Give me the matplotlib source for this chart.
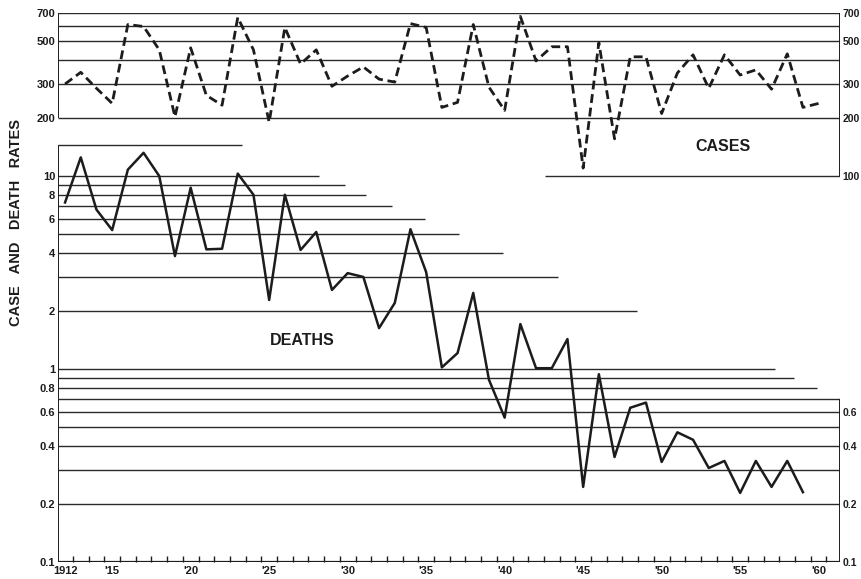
"""Case and death rates, 1912-1960, on one log scale (cases read on the x10 labels)."""
import matplotlib
matplotlib.use("Agg")
import matplotlib.pyplot as plt
from matplotlib.ticker import NullLocator
import numpy as np

plt.rcParams["font.family"] = ["Liberation Sans", "DejaVu Sans"]

# ---- data ----
case_years = list(range(1912, 1961))
cases = [300, 345, 285, 238, 610, 596, 451, 203, 462, 262, 233, 664, 451, 190,
         589, 381, 451, 292, 330, 368, 318, 307, 617, 589, 227, 241, 610, 289,
         219, 672, 395, 468, 468, 110, 491, 156, 415, 415, 211, 342, 425, 285,
         425, 334, 355, 282, 430, 227, 238]

death_years = list(range(1912, 1960))
deaths = [7.3, 12.5, 6.7, 5.25, 10.8, 13.2, 10.0, 3.85, 8.7, 4.17, 4.2, 10.3,
          8.0, 2.28, 8.0, 4.14, 5.13, 2.57, 3.14, 3.0, 1.63, 2.2, 5.3, 3.18,
          1.02, 1.21, 2.48, 0.88, 0.56, 1.71, 1.01, 1.01, 1.43, 0.245, 0.94,
          0.35, 0.63, 0.67, 0.33, 0.47, 0.43, 0.307, 0.334, 0.228, 0.334,
          0.245, 0.334, 0.23]

year_ticks = [1912, 1915, 1920, 1925, 1930, 1935, 1940, 1945, 1950, 1955, 1960]
year_labels = ["1912", "'15", "'20", "'25", "'30", "'35", "'40", "'45", "'50",
               "'55", "'60"]

# cases are drawn at cases/10 on the death-rate scale
left_ticks = [0.1, 0.2, 0.4, 0.6, 0.8, 1, 2, 4, 6, 8, 10, 20, 30, 50, 70]
left_labels = ["0.1", "0.2", "0.4", "0.6", "0.8", "1", "2", "4", "6", "8", "10",
               "200", "300", "500", "700"]
right_ticks = [0.1, 0.2, 0.4, 0.6, 10, 20, 30, 50, 70]
right_labels = ["0.1", "0.2", "0.4", "0.6", "100", "200", "300", "500", "700"]

# ruled lines: level and the year where each one stops (staircase look)
rule_levels = [70, 60, 50, 40, 30, 20, 14.5, 10, 9, 8, 7, 6, 5, 4, 3, 2,
               1, 0.9, 0.8, 0.7, 0.6, 0.5, 0.4, 0.3, 0.2]
rule_ends = [None, None, None, None, None, None, 1923.3, 1928.2, 1929.8,
             1931.2, 1932.8, 1934.9, 1937.1, 1939.9, 1943.4, 1948.4,
             1957.2, 1958.4, 1959.9, None, None, None, None, None, None]

X0, X1 = 1911.55, 1961.36
INK = "#1c1c1c"

fig = plt.figure(figsize=(8.62, 5.79), dpi=100)
ax = fig.add_axes([58 / 862, 17 / 579, 782 / 862, 549 / 579])
ax.set_yscale("log")
ax.set_xlim(X0, X1)
ax.set_ylim(0.1, 70)
for s in ax.spines.values():
    s.set_visible(False)

# ruled grid
for lvl, end in zip(rule_levels, rule_ends):
    ax.hlines(lvl, X0, X1 if end is None else end, color="#2a2a2a", lw=1.0)
ax.hlines(10, 1942.6, X1, color="#2a2a2a", lw=1.0)   # 100 cases line

# frame pieces
ax.hlines(0.1, X0, X1, color=INK, lw=1.6)
ax.vlines(X0, 0.1, 14.5, color=INK, lw=1.4)
ax.vlines(X0, 20, 70, color=INK, lw=1.4)
ax.vlines(X1, 10, 70, color=INK, lw=1.4)
ax.vlines(X1, 0.1, 0.7, color=INK, lw=1.4)

# series
ax.plot(case_years, np.array(cases) / 10, color=INK, lw=2.0,
        ls=(0, (3.2, 1.7)))
ax.plot(death_years, deaths, color=INK, lw=1.8)

ax.text(1953.9, 14.3, "CASES", fontsize=11.5, fontweight="bold",
        ha="center", va="center", color=INK)
ax.text(1927.1, 1.41, "DEATHS", fontsize=11.5, fontweight="bold",
        ha="center", va="center", color=INK)

# axes ticks
ax.yaxis.set_minor_locator(NullLocator())
ax.set_yticks(left_ticks)
ax.set_yticklabels(left_labels, fontsize=8, fontweight="bold", color=INK)
ax.tick_params(axis="y", length=0, pad=2)

ax.set_xticks(year_ticks)
ax.set_xticklabels(year_labels, fontsize=8, fontweight="bold", color=INK)
ax.set_xticks(np.arange(1912.5, 1961, 1), minor=True)
ax.tick_params(axis="x", which="major", length=0, pad=3)
ax.tick_params(axis="x", which="minor", direction="in", length=4,
               width=1, color=INK)

ax2 = ax.twinx()
ax2.set_yscale("log")
ax2.set_ylim(ax.get_ylim())
for s in ax2.spines.values():
    s.set_visible(False)
ax2.yaxis.set_minor_locator(NullLocator())
ax2.set_yticks(right_ticks)
ax2.set_yticklabels(right_labels, fontsize=7.5, fontweight="bold", color=INK)
ax2.tick_params(axis="y", length=0, pad=2)

fig.text(0.018, 0.615, "CASE   AND   DEATH   RATES", rotation=90,
         fontsize=10.5, fontweight="bold", ha="center", va="center", color=INK)

fig.savefig("out.png", dpi=100)
